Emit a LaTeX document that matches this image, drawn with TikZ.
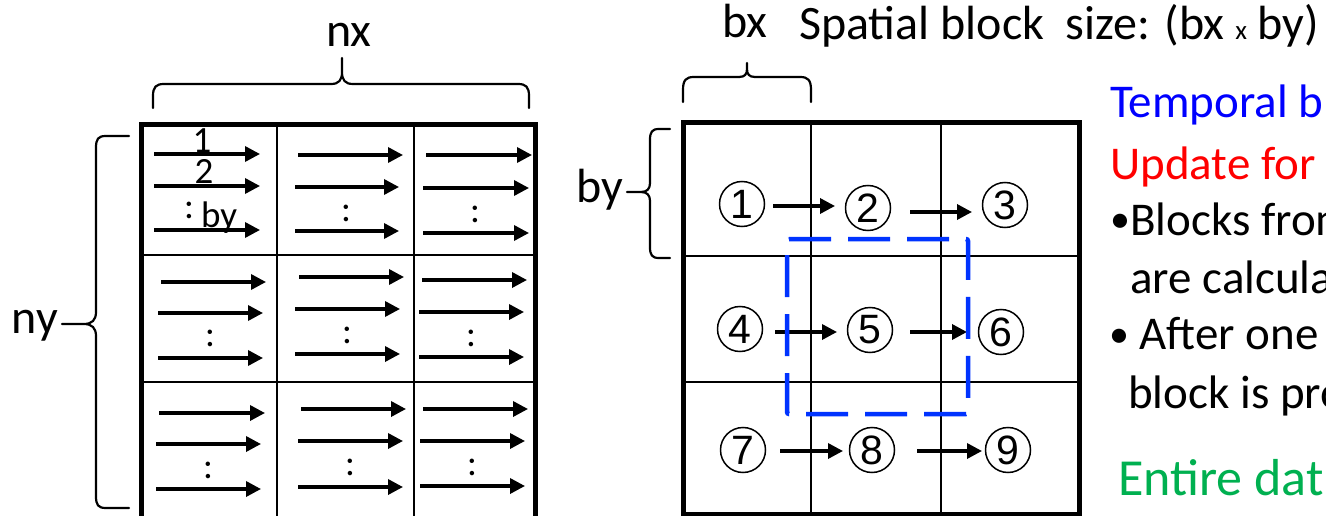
\documentclass[tikz,border=0pt]{standalone}
\usepackage{fontspec}
\setmainfont{Carlito}
\newfontfamily\digitfont{Liberation Sans}
\usetikzlibrary{arrows.meta}
\definecolor{dashblue}{RGB}{0,51,255}
\definecolor{txtgreen}{RGB}{0,176,80}
\begin{document}
\begin{tikzpicture}[x=1pt,y=-1pt,
  outer/.style={line width=5pt},
  inner/.style={line width=2.6pt},
  arr/.style={line width=3.4pt,-{Triangle[length=15pt,width=15pt]}},
  brace/.style={line width=2.2pt, line join=round, line cap=round},
  lbl/.style={font=\fontsize{48}{52}\selectfont, inner sep=0pt},
  cell/.style={font=\fontsize{37}{42}\selectfont, inner sep=0pt},
  circ/.style={circle, draw, line width=1.5pt, minimum width=45pt, inner sep=0pt,
               font=\digitfont\fontsize{41}{44}\selectfont},
  side/.style={font=\fontsize{47}{56}\selectfont, inner sep=0pt, anchor=base west},
]
\useasboundingbox (0,0) rectangle (1326,516);
\fill[white] (0,0) rectangle (1326,516);

% ---------- left: whole domain split into blocks ----------
\draw[inner] (277,125) -- (277,522) (414,125) -- (414,522)
             (141,255) -- (535,255) (141,382) -- (535,382);
\draw[outer] (141,522) -- (141,125) -- (535,125) -- (535,522);

\foreach \a/\b/\y in {154/260/154, 154/260/186, 154/260/230,
                      298/403/155, 295/399/187, 295/399/231,
                      426/532/155, 423/529/188, 423/529/233,
                      161/266/282, 158/263/313, 158/263/358,
                      299/404/277, 295/400/309, 295/400/354,
                      422/527/280, 419/524/312, 419/524/357,
                      159/265/413, 156/261/444, 156/261/489,
                      301/406/409, 298/403/441, 298/403/487,
                      423/528/409, 420/525/441, 420/525/486}
  \draw[arr] (\a,\y) -- (\b,\y);

\foreach \x/\y [count=\i] in {189/210, 346/213, 475/214,
                              210/338, 347/335, 471/338,
                              208/470, 350/467, 472/467}
  \node[cell] (dots\i) at (\x,\y) {:};

\node[cell, anchor=base] (row1) at (202,153) {1};
\node[cell, anchor=base] (row2) at (204,184) {2};
\node[cell, anchor=base west] (rowby) at (201,227) {by};

% braces of the domain
\draw[brace] (153,108) -- (153,96) .. controls (153,87) and (156,84) .. (164,84)
  -- (331,84) .. controls (339,84) and (342,80) .. (342,72) -- (342,58)
  (342,72) .. controls (342,80) and (345,84) .. (353,84)
  -- (518,84) .. controls (526,84) and (529,87) .. (529,96) -- (529,108);
\node[lbl, anchor=base] (nx) at (349,47) {nx};

\draw[brace] (129,136) -- (106,136) .. controls (98,136) and (96,139) .. (96,148)
  -- (96,312) .. controls (96,320) and (92,324) .. (84,324) -- (62,324)
  (84,324) .. controls (92,324) and (96,328) .. (96,336)
  -- (96,496) .. controls (96,505) and (98,508) .. (106,508) -- (129,508);
\node[lbl, anchor=base east] (ny) at (58,333) {ny};

% ---------- right: spatial blocks and their order ----------
\draw[inner] (811,123) -- (811,514) (941,123) -- (941,514)
             (683,256) -- (1079,256) (683,382) -- (1079,382);
\draw[outer] (683,123) rectangle (1079,514);

\node[circ] (c1) at (742,204) {1};
\node[circ] (c2) at (868,208) {2};
\node[circ] (c3) at (1005,205) {3};
\node[circ] (c4) at (740,329) {4};
\node[circ] (c5) at (870,330) {5};
\node[circ] (c6) at (1001,332) {6};
\node[circ] (c7) at (743,450) {7};
\node[circ] (c8) at (872,450) {8};
\node[circ] (c9) at (1008,450) {9};

\draw[arr, shorten <=31pt, shorten >=33pt] ([yshift=-2pt]c1.center) -- ([yshift=-2pt]c1.center -| c2.center);
\draw[arr, shorten <=42pt, shorten >=33pt] ([yshift=-4pt]c2.center) -- ([yshift=-4pt]c2.center -| c3.center);
\draw[arr, shorten <=35pt, shorten >=33pt] ([yshift=-3pt]c4.center) -- ([yshift=-3pt]c4.center -| c5.center);
\draw[arr, shorten <=40pt, shorten >=34pt] ([yshift=-2pt]c5.center) -- ([yshift=-2pt]c5.center -| c6.center);
\draw[arr, shorten <=37pt, shorten >=29pt] ([yshift=-1pt]c7.center) -- ([yshift=-1pt]c7.center -| c8.center);
\draw[arr, shorten <=45pt, shorten >=26pt] ([yshift=-1pt]c8.center) -- ([yshift=-1pt]c8.center -| c9.center);

% temporal block outline
\draw[dashblue, line width=4.5pt, dash pattern=on 42pt off 17pt, rounded corners=2pt]
  (787,239) -- (968,239) -- (968,414) -- (787,414) -- cycle;

% braces of one block
\draw[brace] (683,102) -- (683,90) .. controls (683,80) and (686,77) .. (694,77)
  -- (739,77) .. controls (745,77) and (747,74) .. (747,69) -- (747,63)
  (747,69) .. controls (747,74) and (749,77) .. (755,77)
  -- (800,77) .. controls (808,77) and (811,80) .. (811,90) -- (811,102);
\node[lbl, anchor=base] (bx) at (745,38) {bx};

\draw[brace] (670,129) -- (659,129) .. controls (652,129) and (650,132) .. (650,140)
  -- (650,183) .. controls (650,189) and (647,192) .. (641,192) -- (627,192)
  (641,192) .. controls (647,192) and (650,195) .. (650,201)
  -- (650,247) .. controls (650,255) and (652,258) .. (659,258) -- (670,258);
\node[lbl, anchor=base east] (by) at (623,202) {by};

\node[lbl, anchor=base west] (title) at (799,40)
  {Spatial block\ \ size: (bx {\fontsize{27}{30}\selectfont x} by)};

% ---------- notes ----------
\node[side, text=blue] (t1) at (1110,118) {Temporal b};
\node[side, text=red] (t2) at (1110,180) {Update for};
\node[side] (t3) at (1110,235) {\raisebox{2pt}{\fontsize{40}{40}\selectfont•}Blocks from};
\node[side] (t4) at (1130,293) {are calcula};
\node[side] (t5) at (1109,349) {\raisebox{2pt}{\fontsize{40}{40}\selectfont•}\ After one};
\node[side] (t6) at (1128,408) {block is pro};
\node[side, font=\fontsize{52}{60}\selectfont, text=txtgreen] (t7) at (1118,495) {Entire dat};
\end{tikzpicture}
\end{document}
